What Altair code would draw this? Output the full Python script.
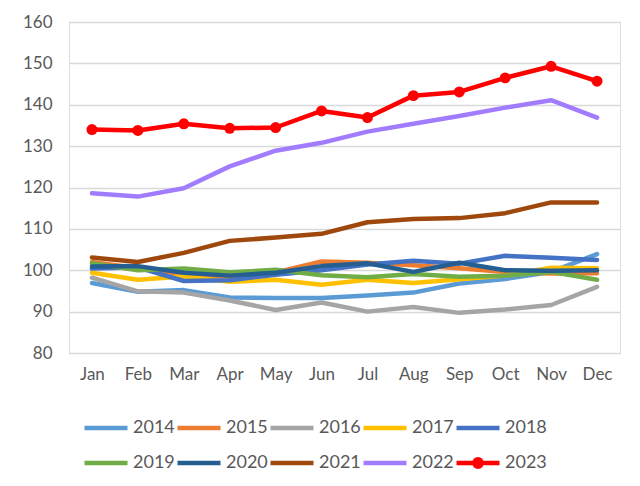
import altair as alt
import pandas as pd

months = ["Jan", "Feb", "Mar", "Apr", "May", "Jun", "Jul", "Aug", "Sep", "Oct", "Nov", "Dec"]
years = ["2014", "2015", "2016", "2017", "2018", "2019", "2020", "2021", "2022", "2023"]
colors = ["#5B9BD5", "#ED7D31", "#A5A5A5", "#FFC000", "#4472C4",
          "#70AD47", "#255E91", "#9E480E", "#A27CFF", "#FF0000"]

y2014 = [96.9, 94.8, 95.2, 93.4, 93.3, 93.3, 93.9, 94.6, 96.8, 97.9, 99.6, 103.9]
y2015 = [102.0, 100.5, 99.0, 98.4, 99.5, 102.1, 101.8, 101.2, 100.5, 99.6, 99.2, 99.3]
y2016 = [98.2, 94.9, 94.6, 92.7, 90.4, 92.2, 90.0, 91.1, 89.7, 90.5, 91.6, 96.0]
y2017 = [99.4, 97.7, 98.5, 97.2, 97.7, 96.5, 97.7, 96.9, 97.8, 98.7, 100.6, 100.5]
y2018 = [100.4, 100.7, 97.4, 97.6, 98.9, 100.0, 101.4, 102.3, 101.6, 103.5, 103.0, 102.5]
y2019 = [101.7, 100.0, 100.4, 99.5, 100.1, 98.8, 98.3, 99.1, 98.4, 98.7, 99.6, 97.7]
y2020 = [100.9, 101.0, 99.4, 98.7, 99.4, 101.0, 101.7, 99.6, 101.8, 100.0, 99.9, 100.0]
y2021 = [103.1, 102.0, 104.2, 107.1, 107.9, 108.8, 111.6, 112.4, 112.6, 113.8, 116.4, 116.4]
y2022 = [118.6, 117.8, 119.8, 125.1, 128.9, 130.8, 133.5, 135.4, 137.3, 139.3, 141.1, 136.9]
y2023 = [134.0, 133.8, 135.4, 134.3, 134.5, 138.5, 136.9, 142.2, 143.1, 146.5, 149.3, 145.7]

series = [y2014, y2015, y2016, y2017, y2018, y2019, y2020, y2021, y2022, y2023]

rows = []
for yi, (yr, vals) in enumerate(zip(years, series)):
    for mi, (m, v) in enumerate(zip(months, vals)):
        rows.append({"month": m, "year": yr, "value": v, "yi": yi, "mi": mi})
df = pd.DataFrame(rows)

FONT = "Lato"
TXT = "#595959"

x = alt.X("month:N", sort=months, title=None,
          scale=alt.Scale(type="point", padding=0.5),
          axis=alt.Axis(labelAngle=0, ticks=False, domain=False, grid=False,
                        labelFontSize=17, labelColor=TXT, labelFont=FONT,
                        labelPadding=13))
y = alt.Y("value:Q", title=None,
          scale=alt.Scale(domain=[80, 160], nice=False, zero=False),
          axis=alt.Axis(values=list(range(80, 161, 10)), ticks=False, domain=False,
                        grid=True, gridColor="#D9D9D9", gridWidth=1.5,
                        labelFontSize=17, labelColor=TXT, labelFont=FONT,
                        labelPadding=17))

marker_path = ("M-1,0L1,0M-0.17,0A0.17,0.17 0 1,0 0.17,0"
               "A0.17,0.17 0 1,0 -0.17,0Z")

legend = alt.Legend(
    title=None, orient="none", legendX=13, legendY=380, direction="horizontal",
    columns=5,
    symbolType=alt.ExprRef(expr="datum.label === '2023' ? '" + marker_path + "' : 'stroke'"),
    symbolFillColor=alt.ExprRef(expr="datum.label === '2023' ? '#FF0000' : 'transparent'"),
    symbolSize=1849, symbolStrokeWidth=4.5,
    labelFontSize=18, labelColor=TXT, labelFont=FONT, labelOffset=3,
    columnPadding=-9, rowPadding=-5, gridAlign="all",
)

color = alt.Color("year:N", scale=alt.Scale(domain=years, range=colors), legend=legend)

base = alt.Chart(df)

lines = base.transform_filter(alt.datum.year != "2023").mark_line(
    strokeWidth=4.5, strokeCap="round", strokeJoin="round"
).encode(x=x, y=y, color=color, order=alt.Order("mi:Q"))

line23 = base.transform_filter(alt.datum.year == "2023").mark_line(
    strokeWidth=4.5, strokeCap="round", strokeJoin="round"
).encode(x=x, y=y, color=color, order=alt.Order("mi:Q"))

pts23 = base.transform_filter(alt.datum.year == "2023").mark_point(
    filled=True, size=120, opacity=1, shape="circle"
).encode(x=x, y=y, color=alt.Color("year:N", scale=alt.Scale(domain=years, range=colors), legend=None))

chart = alt.layer(lines, line23, pts23).properties(
    width=551, height=331,
    autosize=alt.AutoSizeParams(type="none"),
    padding={"left": 61, "top": 14, "right": 12, "bottom": 125},
).configure_view(stroke=None).configure(font=FONT)

chart.save("out.html", embed_options={"renderer": "svg", "actions": False})
